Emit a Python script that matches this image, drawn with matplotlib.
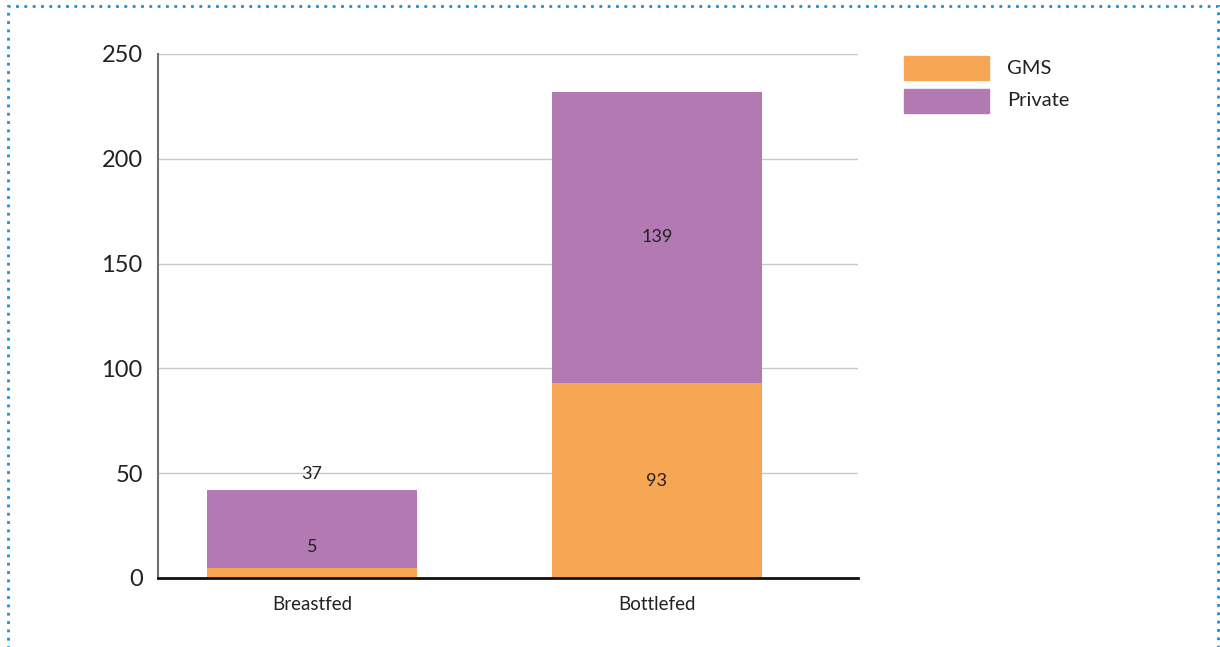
import matplotlib.pyplot as plt
from matplotlib.patches import Rectangle

categories = ["Breastfed", "Bottlefed"]
gms = [5, 93]
private = [37, 139]
series_names = ["GMS", "Private"]
colors = ["#F7A654", "#B279B3"]

plt.rcParams['font.family'] = ['Lato', 'DejaVu Sans']

fig = plt.figure(figsize=(12.2, 6.47), dpi=100)
ax = fig.add_axes([158 / 1220, 1 - 578 / 647, 700 / 1220, 524 / 647])

x = range(len(categories))
w = 0.609
ax.bar(x, gms, width=w, color=colors[0], zorder=3)
ax.bar(x, private, width=w, bottom=gms, color=colors[1], zorder=3)

# valores: Bottlefed centrados nos segmentos, Breastfed empurrados para cima
lab = dict(ha="center", va="center", fontsize=13, color="#222222", zorder=4)
ax.text(0, 15, str(gms[0]), **lab)
ax.text(0, 49.5, str(private[0]), **lab)
ax.text(1, gms[1] / 2, str(gms[1]), **lab)
ax.text(1, gms[1] + private[1] / 2, str(private[1]), **lab)

ax.set_xlim(-0.446, 1.583)
ax.set_ylim(0, 250)
ax.set_yticks([0, 50, 100, 150, 200, 250])
ax.set_xticks(list(x))
ax.set_xticklabels(categories, fontsize=13.5, color="#222222")
ax.tick_params(axis="y", length=0, pad=11, labelsize=17, labelcolor="#222222")
ax.tick_params(axis="x", length=0, pad=13)
ax.grid(axis="y", color="#c8c8c8", linewidth=1, zorder=0)

for s in ["top", "right"]:
    ax.spines[s].set_visible(False)
ax.spines["left"].set_color("#707070")
ax.spines["left"].set_linewidth(1.5)
ax.spines["bottom"].set_color("#111111")
ax.spines["bottom"].set_linewidth(2)
ax.spines["bottom"].set_zorder(5)

# legenda manual
for i, (name, c) in enumerate(zip(series_names, colors)):
    y0 = 56 + i * 33
    fig.patches.append(Rectangle((904 / 1220, 1 - (y0 + 24) / 647), 85 / 1220, 24 / 647,
                                 transform=fig.transFigure, color=c))
    fig.text(1007 / 1220, 1 - (y0 + 12) / 647, name, fontsize=14.5, va="center", color="#222222")

# moldura pontilhada azul
fig.patches.append(Rectangle((8 / 1220, -0.02), 1210 / 1220, 1.02 - 6 / 647,
                             transform=fig.transFigure, fill=False, edgecolor="#1a8fd6",
                             linestyle=(0, (1, 2)), linewidth=2))

fig.savefig("out.png", dpi=100)
